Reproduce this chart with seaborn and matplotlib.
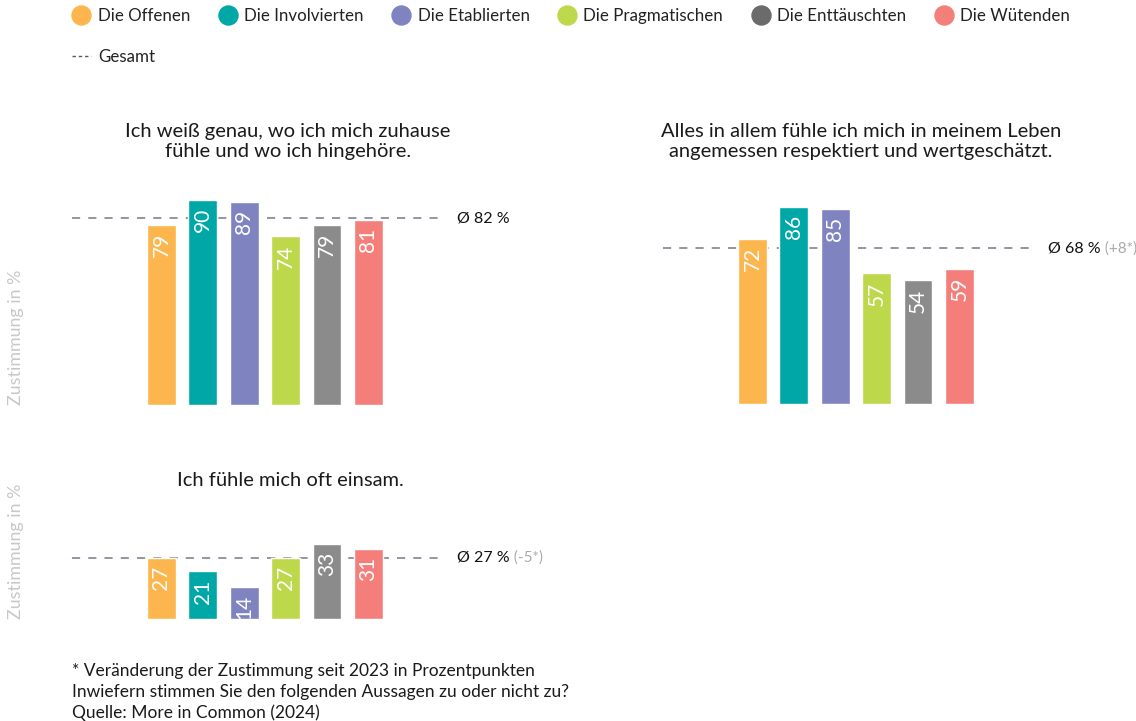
import matplotlib
matplotlib.use("Agg")
import matplotlib.pyplot as plt
from matplotlib.lines import Line2D
import seaborn as sns
import pandas as pd

sns.set_style("white")
plt.rcParams['font.family'] = ['Lato', 'DejaVu Sans']

groups = ["Die Offenen", "Die Involvierten", "Die Etablierten",
          "Die Pragmatischen", "Die Enttäuschten", "Die Wütenden"]
bar_colors = ["#fdb64e", "#00a7a7", "#7f84c1", "#bed84c", "#8c8b8b", "#f47f7a"]
legend_colors = ["#fdb64e", "#00a7a7", "#7f84c1", "#bed84c", "#6b6b6b", "#f47f7a"]

titles = ["Ich weiß genau, wo ich mich zuhause\nfühle und wo ich hingehöre.",
          "Alles in allem fühle ich mich in meinem Leben\nangemessen respektiert und wertgeschätzt.",
          "Ich fühle mich oft einsam."]
values_home = [79, 90, 89, 74, 79, 81]
values_respect = [72, 86, 85, 57, 54, 59]
values_lonely = [27, 21, 14, 27, 33, 31]
averages = [82, 68, 27]
changes = [None, "(+8*)", "(-5*)"]

footer = ["* Veränderung der Zustimmung seit 2023 in Prozentpunkten",
          "Inwiefern stimmen Sie den folgenden Aussagen zu oder nicht zu?",
          "Quelle: More in Common (2024)"]

W, H = 1136, 721
fig = plt.figure(figsize=(W / 100, H / 100), dpi=100)

def px_axes(left, baseline, width, height):
    return fig.add_axes([left / W, (H - baseline) / H, width / W, height / H])

panels = [
    dict(vals=values_home, left=72, base=405, scale=2.28, top=100, title_x=288, title_y=141.5, ylabel=True),
    dict(vals=values_respect, left=663, base=404, scale=2.29, top=100, title_x=861, title_y=141.5, ylabel=False),
    dict(vals=values_lonely, left=72, base=619, scale=2.27, top=40, title_x=290, title_y=481, ylabel=True),
]

for k, p in enumerate(panels):
    ax = px_axes(p["left"], p["base"], 368, p["top"] * p["scale"])
    df = pd.DataFrame({"group": groups, "value": p["vals"]})
    sns.barplot(data=df, x="group", y="value", hue="group", palette=bar_colors,
                width=0.7, saturation=1, legend=False, ax=ax)
    ax.set_xlim(-2.16, 6.73)
    ax.set_ylim(0, p["top"])
    ax.axhline(averages[k], color="#8a8d9a", lw=1.3, linestyle=(0, (4.5, 4.5)), zorder=0)
    for sp in ax.spines.values():
        sp.set_visible(False)
    ax.set_xticks([]); ax.set_yticks([])
    ax.set_xlabel(""); ax.set_ylabel("")
    ax.patch.set_alpha(0)
    for i, v in enumerate(p["vals"]):
        ax.annotate(str(v), xy=(i, v), xytext=(0, -8), textcoords="offset pixels",
                    rotation=90, ha="center", va="top", color="white", fontsize=15)
    t = ax.annotate(f"Ø {averages[k]} %", xy=(1, averages[k]),
                    xycoords=("axes fraction", "data"), xytext=(17, 0),
                    textcoords="offset pixels", ha="left", va="center",
                    color="#111111", fontsize=11.5)
    if changes[k]:
        ax.annotate(" " + changes[k], xy=(1, 0.5), xycoords=t, ha="left", va="center",
                    color="#aaaaaa", fontsize=11)
    fig.text(p["title_x"] / W, 1 - p["title_y"] / H, titles[k], ha="center", va="center",
             fontsize=14.5, color="#1a1a1a", linespacing=1.25)
    if p["ylabel"]:
        fig.text(16 / W, 1 - p["base"] / H, "Zustimmung in %", rotation=90,
                 ha="center", va="bottom", color="#c8c8c8", fontsize=12.9)

handles = []
labels = []
for i, (g, c) in enumerate(zip(groups, legend_colors)):
    handles.append(Line2D([], [], marker="o", linestyle="none", markersize=13.7,
                          markerfacecolor=c, markeredgecolor=c))
    labels.append(g)
    if i == 0:
        handles.append(Line2D([], [], color="#555a6e", lw=1, linestyle=(0, (2.5, 2))))
        labels.append("Gesamt")

fig.legend(handles, labels, ncol=6, loc="upper left", bbox_to_anchor=(72 / W, 1 - 8 / H),
           frameon=False, fontsize=12.2, handlelength=1.12, handletextpad=0.41,
           columnspacing=1.65, labelspacing=1.45, borderaxespad=0, borderpad=0,
           labelcolor="#222222")

for j, line in enumerate(footer):
    fig.text(72 / W, 1 - (671 + 21 * j) / H, line, ha="left", va="center",
             fontsize=12.5, color="#1a1a1a")

fig.savefig("out.png", dpi=100)
